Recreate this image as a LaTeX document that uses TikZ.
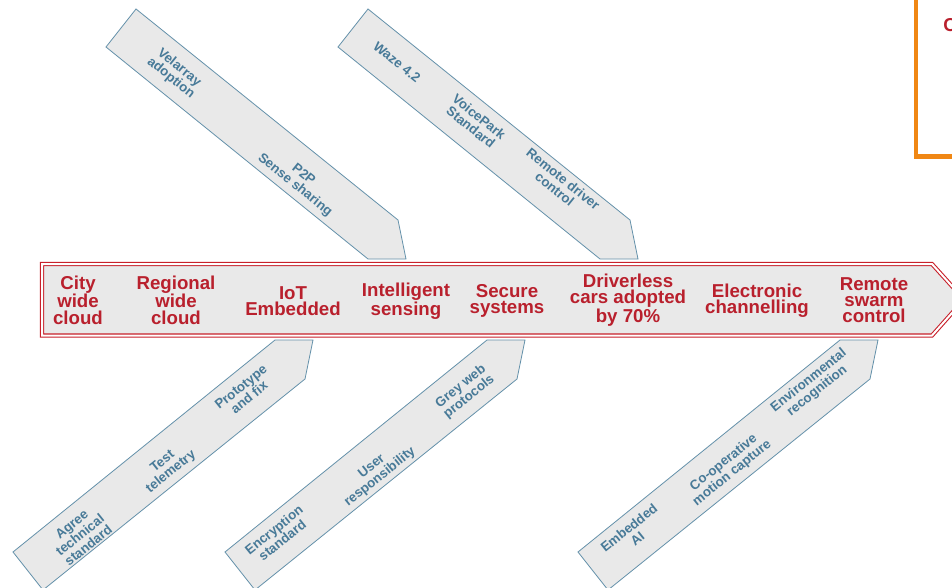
\documentclass[tikz,border=0pt]{standalone}
\usepackage{fontspec}
\setmainfont{Liberation Sans}
\definecolor{maintext}{RGB}{185,32,45}
\definecolor{mainline}{RGB}{200,32,42}
\definecolor{boxgray}{RGB}{233,233,233}
\definecolor{branchline}{RGB}{100,145,170}
\definecolor{branchtext}{RGB}{72,122,152}
\definecolor{orangeline}{RGB}{240,135,20}
\begin{document}
\begin{tikzpicture}[x=0.75pt,y=-0.75pt,
  branch/.style={fill=boxgray, draw=branchline, line width=0.6pt, line join=miter},
  btext/.style={text=branchtext, font=\bfseries\fontsize{10}{10}\selectfont, align=center, inner sep=0pt},
  mtext/.style={text=maintext, font=\bfseries\fontsize{14}{12.2}\selectfont, align=center, inner sep=0pt},
  spine/.style={fill=boxgray, draw=mainline, line width=0.8pt, double=white, double distance=1.5pt, line join=miter}]
\useasboundingbox (0,0) rectangle (952,588);
\fill[white] (0,0) rectangle (952,588);

% upper branches
\foreach \x in {368,600}
  \draw[branch] (\x-232,9) -- (\x+30,220) -- (\x+38,259) -- (\x,259) -- (\x-262,47) -- cycle;
% lower branches
\foreach \x in {275,487,840}
  \draw[branch] (\x-232,590) -- (\x+30,379) -- (\x+38,340) -- (\x,340) -- (\x-262,552) -- cycle;

% main spine
\draw[spine] (42,264) -- (932,264) -- (964,299.5) -- (932,335.5) -- (42,335.5) -- cycle;

% orange box
\draw[orangeline, line width=3.3pt] (916,-10) -- (916,156.5) -- (970,156.5);
\node[mtext, anchor=west] (ctext) at (943,25) {C};

% main labels
\node[mtext] (m1) at (78,300) {City\\wide\\cloud};
\node[mtext] (m2) at (176,300) {Regional\\wide\\cloud};
\node[mtext] (m3) at (293,301) {IoT\\Embedded};
\node[mtext] (m4) at (406,301) {Intelligent\\sensing};
\node[mtext] (m5) at (507,301) {Secure\\systems};
\node[mtext] (m6) at (628,300) {Driverless\\cars adopted\\by 70\%};
\node[mtext] (m7) at (757,301) {Electronic\\channelling};
\node[mtext] (m8) at (874,300) {Remote\\swarm\\control};

% upper branch texts
\node[btext, rotate=-38.8] (t1) at (175,73) {Velarray\\adoption};
\node[btext, rotate=-38.8] (t2) at (299,180) {P2P\\Sense sharing};
\node[btext, rotate=-38.8] (t3) at (397,62) {Waze 4.2};
\node[btext, rotate=-38.8] (t4) at (475,122) {VoicePark\\Standard};
\node[btext, rotate=-38.8] (t5) at (559,184) {Remote driver\\control};

% lower branch texts
\node[btext, rotate=38.8] (b1) at (80,535) {Agree\\technical\\standard};
\node[btext, rotate=38.8] (b2) at (167,467) {Test\\telemetry};
\node[btext, rotate=38.8] (b3) at (245,392) {Prototype\\and fix};
\node[btext, rotate=38.8] (b4) at (278,535) {Encryption\\standard};
\node[btext, rotate=38.8] (b5) at (376,472) {User\\responsibility};
\node[btext, rotate=38.8] (b6) at (465,392) {Grey web\\protocols};
\node[btext, rotate=38.8] (b7) at (633,533) {Embedded\\AI};
\node[btext, rotate=38.8] (b8) at (728,468) {Co-operative\\motion capture};
\node[btext, rotate=38.8] (b9) at (813,386) {Environmental\\recognition};
\end{tikzpicture}
\end{document}
